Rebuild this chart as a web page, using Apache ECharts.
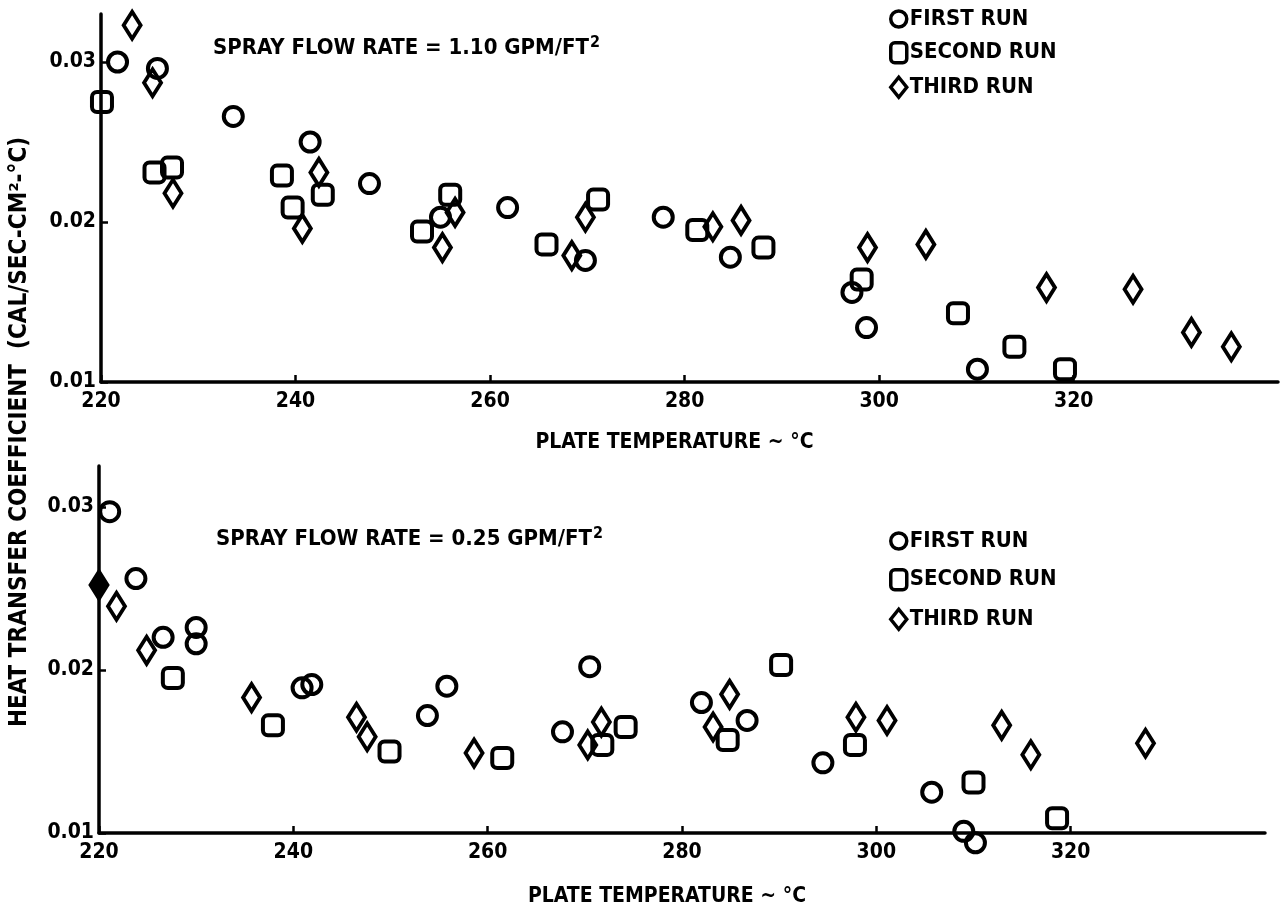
<!DOCTYPE html>
<html>
<head>
<meta charset="utf-8">
<title>Heat transfer coefficient vs plate temperature</title>
<script src="https://cdn.jsdelivr.net/npm/echarts@6/dist/echarts.min.js"></script>
<style>
  html, body { margin: 0; padding: 0; background: #ffffff; }
  #chart { width: 1280px; height: 916px; }
</style>
</head>
<body>
<div id="chart"></div>
<script>
// Axis ticks
const tempTicks = [220, 240, 260, 280, 300, 320];
const coefTicks = [0.01, 0.02, 0.03];
const runNames = ['FIRST RUN', 'SECOND RUN', 'THIRD RUN'];

// Spray flow rate 1.10 GPM/FT2 : [plate temperature °C, coefficient]
const high1 = [[221.7,0.0300],[225.8,0.0296],[233.6,0.0266],[241.5,0.0250],[247.6,0.0224],[254.9,0.0203],[261.8,0.0209],[269.8,0.0176],[277.8,0.0203],[284.7,0.0178],[297.2,0.0156],[298.7,0.0134],[310.1,0.0108]];
const high2 = [[220.1,0.0275],[225.5,0.0231],[227.3,0.0234],[238.6,0.0229],[239.7,0.0209],[242.8,0.0217],[253.0,0.0194],[255.9,0.0217],[265.8,0.0186],[271.1,0.0214],[281.3,0.0195],[288.1,0.0184],[298.2,0.0164],[308.1,0.0143],[313.9,0.0122],[319.1,0.0108]];
const high3 = [[223.2,0.0323],[225.3,0.0287],[227.4,0.0218],[240.7,0.0196],[242.4,0.0231],[255.1,0.0184],[256.4,0.0206],[268.4,0.0179],[269.8,0.0203],[282.9,0.0197],[285.8,0.0201],[298.8,0.0184],[304.8,0.0186],[317.2,0.0159],[326.1,0.0158],[332.1,0.0131],[336.2,0.0122]];

// Spray flow rate 0.25 GPM/FT2
const low1 = [[221.1,0.0297],[223.8,0.0256],[226.6,0.0220],[230.0,0.0226],[230.0,0.0216],[240.9,0.0189],[241.9,0.0191],[253.8,0.0172],[255.8,0.0190],[267.7,0.0162],[270.5,0.0202],[282.0,0.0180],[286.7,0.0169],[294.5,0.0143],[305.7,0.0125],[309.0,0.0101],[310.2,0.0094]];
const low2 = [[227.6,0.0195],[237.9,0.0166],[249.9,0.0150],[261.5,0.0146],[271.8,0.0154],[274.2,0.0165],[284.7,0.0157],[290.2,0.0203],[297.8,0.0154],[310.0,0.0131],[318.6,0.0109]];
const low3 = [[220.0,0.0252],[221.8,0.0239],[224.9,0.0212],[235.7,0.0183],[246.5,0.0171],[247.6,0.0159],[258.6,0.0149],[270.3,0.0154],[271.7,0.0168],[283.2,0.0165],[284.9,0.0185],[297.9,0.0171],[301.1,0.0169],[312.9,0.0166],[315.9,0.0148],[327.7,0.0155]];

const INK = '#000000';
const FONT = '"DejaVu Sans Condensed", "Liberation Sans Narrow", "DejaVu Sans", sans-serif';

const markers = [
  { symbol: 'circle', size: 19 },
  { symbol: 'roundRect', size: 20 },
  { symbol: 'diamond', size: [17, 27] }
];

function hollowStyle(width) {
  return { color: 'rgba(255,255,255,0)', borderColor: INK, borderWidth: width, opacity: 1 };
}

function makeSeries(data, run, panel) {
  const m = markers[run];
  return {
    type: 'scatter',
    name: runNames[run],
    xAxisIndex: panel,
    yAxisIndex: panel,
    symbol: m.symbol,
    symbolSize: m.size,
    itemStyle: hollowStyle(4),
    clip: false,
    silent: true,
    data: data
  };
}

function xAxis(gridIndex, max) {
  return {
    type: 'value', gridIndex: gridIndex, min: 220, max: max,
    name: 'PLATE TEMPERATURE ~ °C',
    nameLocation: 'middle', nameGap: gridIndex === 0 ? 50 : 53,
    nameTextStyle: { fontFamily: FONT, fontWeight: 'bold', fontSize: 21, color: INK, padding: [0, 30, 0, 0] },
    axisLine: { show: true, lineStyle: { color: INK, width: 3.5 } },
    axisTick: { show: true, inside: true, length: 7, lineStyle: { color: INK, width: 2.5 }, customValues: tempTicks },
    axisLabel: { show: true, margin: 9, fontFamily: FONT, fontWeight: 'bold', fontSize: 21, color: INK, customValues: tempTicks },
    splitLine: { show: false }
  };
}

function yAxis(gridIndex, max) {
  return {
    type: 'value', gridIndex: gridIndex, min: 0.01, max: max,
    axisLine: { show: true, lineStyle: { color: INK, width: 3.5 } },
    axisTick: { show: true, inside: true, length: 7, lineStyle: { color: INK, width: 2.5 }, customValues: coefTicks },
    axisLabel: {
      show: true, margin: 5, fontFamily: FONT, fontWeight: 'bold', fontSize: 21, color: INK,
      customValues: coefTicks,
      formatter: v => v.toFixed(2),
      verticalAlign: 'middle', padding: [0, 0, 8, 0]
    },
    splitLine: { show: false }
  };
}

function legend(top, gap) {
  return {
    orient: 'vertical', left: 884, top: top, itemGap: gap,
    itemWidth: 16, itemHeight: 20,
    selectedMode: false,
    textStyle: { fontFamily: FONT, fontWeight: 'bold', fontSize: 22, color: INK, padding: [0, 0, 0, -2] },
    data: runNames.map((n, i) => ({ name: n, icon: markers[i].symbol, itemStyle: hollowStyle(3.5) }))
  };
}

function flowTitle(rate, left, top) {
  return {
    text: '{t|SPRAY FLOW RATE = ' + rate + ' GPM/FT}{s|2}', left: left, top: top,
    textStyle: {
      rich: {
        t: { fontFamily: FONT, fontWeight: 'bold', fontSize: 22, color: INK, height: 28 },
        s: { fontFamily: FONT, fontWeight: 'bold', fontSize: 16, color: INK, verticalAlign: 'top', height: 28, padding: [0, 0, 10, 1] }
      }
    }
  };
}

const chart = echarts.init(document.getElementById('chart'), null, { renderer: 'canvas' });

const series = [
  makeSeries(high1, 0, 0), makeSeries(high2, 1, 0), makeSeries(high3, 2, 0),
  makeSeries(low1, 0, 1), makeSeries(low2, 1, 1), makeSeries(low3, 2, 1)
];
// The 220 °C third-run point of the lower panel sits on the axis and is drawn solid
series[5].data = low3.map((p, i) => i === 0 ? { value: p, itemStyle: { color: INK } } : p);

chart.setOption({
  animation: false,
  backgroundColor: '#ffffff',
  grid: [
    { left: 101, top: 14, width: 1177, height: 368 },
    { left: 99, top: 466, width: 1166, height: 367 }
  ],
  xAxis: [xAxis(0, 341), xAxis(1, 340)],
  yAxis: [yAxis(0, 0.033), yAxis(1, 0.0325)],
  legend: [legend(3, 11), legend(525, 16)],
  title: [flowTitle('1.10', 208, 24), flowTitle('0.25', 211, 515)],
  graphic: [
    {
      type: 'text', x: 20, y: 432, rotation: Math.PI / 2,
      style: {
        text: 'HEAT TRANSFER COEFFICIENT  (CAL/SEC-CM²-°C)',
        font: 'bold 24px ' + FONT, fill: INK,
        align: 'center', verticalAlign: 'middle'
      }
    }
  ],
  series: series
});
</script>
</body>
</html>
